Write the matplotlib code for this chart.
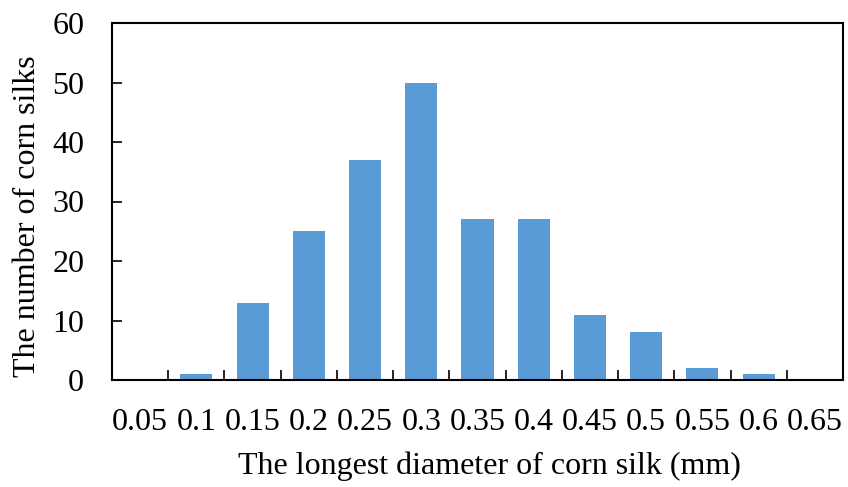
import numpy as np
import matplotlib
matplotlib.use('Agg')
import matplotlib.pyplot as plt
from matplotlib.ticker import FixedLocator, MultipleLocator

# Data
diameters = ['0.05', '0.1', '0.15', '0.2', '0.25', '0.3', '0.35',
             '0.4', '0.45', '0.5', '0.55', '0.6', '0.65']
counts = [0, 1, 13, 25, 37, 50, 27, 27, 11, 8, 2, 1, 0]

plt.rcParams['font.family'] = ['Liberation Serif', 'DejaVu Serif']

fig = plt.figure(figsize=(8.48, 4.87), dpi=100)
ax = fig.add_axes([112 / 848, 1 - 380 / 487, 731 / 848, 357 / 487])

x = np.arange(len(diameters))
ax.bar(x, counts, width=0.57, color='#5b9bd5', zorder=2)

ax.set_xlim(-0.5, len(diameters) - 0.5)
ax.set_ylim(0, 60)
ax.yaxis.set_major_locator(MultipleLocator(10))

ax.set_xticks(x)
ax.set_xticklabels(diameters)
ax.xaxis.set_minor_locator(FixedLocator(np.arange(0.5, len(diameters) - 1, 1.0)))
ax.tick_params(axis='x', which='major', length=0, pad=20, labelsize=23)
ax.tick_params(axis='x', which='minor', direction='in', length=7, width=1.2)
ax.tick_params(axis='y', direction='in', length=7, width=1.2, labelsize=23, pad=20)

for side in ax.spines.values():
    side.set_linewidth(1.5)

ax.set_xlabel('The longest diameter of corn silk (mm)', fontsize=23)
ax.set_ylabel('The number of corn silks', fontsize=23)
ax.xaxis.set_label_coords(0.517, -0.2)
ax.yaxis.set_label_coords(-0.096, 0.46)

fig.savefig('out.png', dpi=100)
